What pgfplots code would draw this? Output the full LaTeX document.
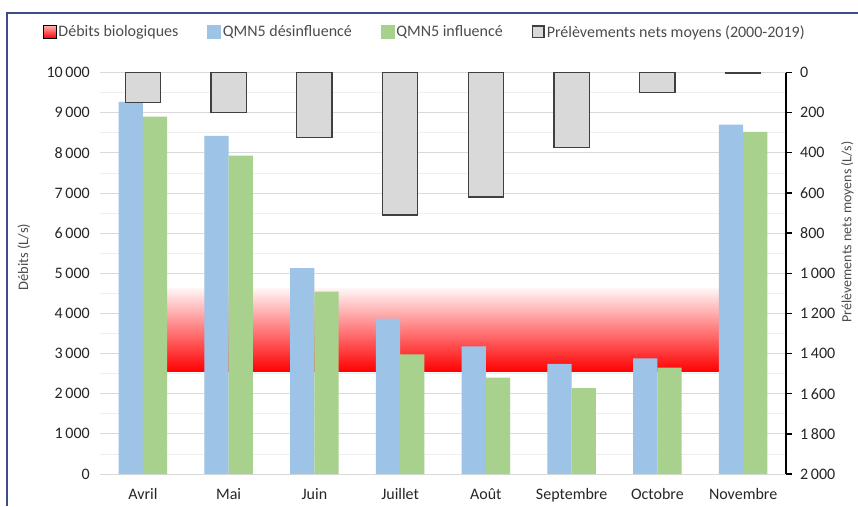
\documentclass[border=0pt]{standalone}
\usepackage{fontspec}
\setmainfont{Carlito}
\usepackage{pgfplots}
\pgfplotsset{compat=1.18}
\definecolor{qblue}{HTML}{9DC3E6}
\definecolor{qgreen}{HTML}{A9D18E}
\definecolor{pgrey}{HTML}{D9D9D9}
\definecolor{pedge}{HTML}{404040}
\definecolor{gridc}{HTML}{D9D9D9}
\definecolor{framec}{HTML}{3E4C8A}
\definecolor{txt}{HTML}{262626}
\begin{document}
\begin{tikzpicture}[x=1pt,y=1pt]
\fill[white] (0,0) rectangle (858,506);
\draw[framec, line width=2pt] (7,0) -- (7,493) -- (858,493);
\begin{axis}[
  at={(100pt,32pt)}, anchor=south west, scale only axis,
  width=686pt, height=401.5pt,
  xmin=-0.5, xmax=7.5, ymin=0, ymax=10000,
  xtick={0,...,7},
  xticklabels={Avril,Mai,Juin,Juillet,Août,Septembre,Octobre,Novembre},
  ytick={0,1000,...,10000},
  minor y tick num=1,
  ymajorgrids, yminorgrids,
  major grid style={gridc, line width=0.8pt},
  minor grid style={gridc!45, line width=0.6pt},
  axis y line*=left, axis x line*=bottom,
  y axis line style={draw=none},
  x axis line style={gridc, line width=0.8pt, -},
  major tick length=0pt, minor tick length=0pt,
  tick label style={font=\fontsize{16}{19}\selectfont, text=txt},
  yticklabel style={anchor=east, inner sep=0pt, xshift=-10pt},
  xticklabel style={anchor=base, inner sep=0pt, yshift=-25pt},
  /pgf/number format/1000 sep={\,},
  /pgf/number format/assume math mode=true,
  scaled y ticks=false,
  ylabel={Débits (L/s)},
  ylabel style={font=\fontsize{14.5}{17}\selectfont, text=black!70, at={(axis description cs:-0.111,0.54)}, anchor=center, rotate=0},
  legend columns=4,
  legend cell align=left,
  legend style={draw=none, fill=none, at={(axis description cs:-0.083,1.101)}, anchor=west,
    inner sep=0pt, outer sep=0pt, font=\fontsize{16}{19}\selectfont, text=black!70,
    nodes={inner sep=2pt},
    /tikz/every even column/.append style={column sep=27pt}},
]
\addlegendimage{legend image code/.code={\shade[bottom color=red, top color=red!30!white] (0pt,-6.5pt) rectangle (13pt,6.5pt);}}
\addlegendentry{Débits biologiques}
\addlegendimage{legend image code/.code={\fill[qblue] (0pt,-6.5pt) rectangle (13pt,6.5pt);}}
\addlegendentry{QMN5 désinfluencé}
\addlegendimage{legend image code/.code={\fill[qgreen] (0pt,-6.5pt) rectangle (13pt,6.5pt);}}
\addlegendentry{QMN5 influencé}
\addlegendimage{legend image code/.code={\draw[pedge, fill=pgrey, line width=1.3pt] (0.65pt,-5.85pt) rectangle (12.35pt,5.85pt);}}
\addlegendentry{Prélèvements nets moyens (2000-2019)}

\addplot[forget plot, draw=none, bottom color=red, middle color=red!60!white, top color=red!4!white]
  coordinates {(0,2550) (7,2550) (7,4620) (0,4620) (0,2550)};

\addplot[forget plot, ybar, bar width=0.283, bar shift=-0.1415, fill=qblue, draw=none]
  coordinates {(0,9270) (1,8420) (2,5130) (3,3870) (4,3180) (5,2740) (6,2880) (7,8700)};
\addplot[forget plot, ybar, bar width=0.283, bar shift=0.1415, fill=qgreen, draw=none]
  coordinates {(0,8900) (1,7930) (2,4540) (3,2980) (4,2400) (5,2140) (6,2650) (7,8520)};
\end{axis}

\begin{axis}[
  at={(100pt,32pt)}, anchor=south west, scale only axis,
  width=686pt, height=401.5pt, clip=false,
  xmin=-0.5, xmax=7.5, ymin=0, ymax=2000, y dir=reverse,
  axis x line=none, axis y line*=right,
  y axis line style={black, line width=1.3pt, -},
  ytick={0,200,...,2000},
  tick align=outside, major tick length=6pt,
  tick style={black, line width=1.3pt},
  tick label style={font=\fontsize{16}{19}\selectfont, text=txt},
  yticklabel style={anchor=west, inner sep=0pt, xshift=8pt},
  /pgf/number format/1000 sep={\,},
  /pgf/number format/assume math mode=true,
  scaled y ticks=false,
  ylabel={Prélèvements nets moyens (L/s)},
  ylabel style={font=\fontsize{14}{16}\selectfont, text=black!70, at={(axis description cs:1.0895,0.603)}, anchor=center, rotate=0},
]
\addplot[forget plot, ybar, bar width=0.41, bar shift=0, fill=pgrey, draw=pedge, line width=1.3pt]
  coordinates {(0,150) (1,200) (2,325) (3,710) (4,620) (5,375) (6,100) (7,5)};
\end{axis}
\pgfresetboundingbox
\useasboundingbox (0,0) rectangle (858,506);
\end{tikzpicture}
\end{document}
